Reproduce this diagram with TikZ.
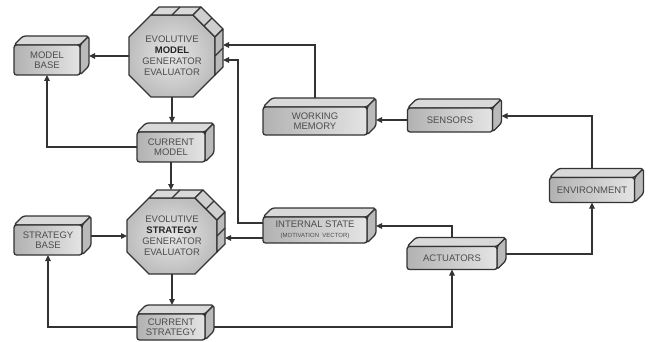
\documentclass[tikz,border=0pt]{standalone}
\usepackage{fontspec}
\setmainfont{Liberation Sans}
\usetikzlibrary{arrows.meta,calc,backgrounds}
\definecolor{lineC}{HTML}{333333}
\definecolor{txtC}{HTML}{4C4C4C}
\definecolor{frontL}{HTML}{B2B2B2}
\definecolor{frontR}{HTML}{E4E4E4}
\definecolor{topC}{HTML}{D9D9D9}
\definecolor{sideC}{HTML}{BABABA}
\definecolor{octI}{HTML}{E6E6E6}
\definecolor{octO}{HTML}{BEBEBE}
\newcommand\dep{9}
\newcommand\octdp{8}
\newcommand\chamf{22}
% 3d box: top and right face behind a front node
\newcommand\cube[1]{%
\filldraw[face,fill=topC](#1.north west)--++(\dep,-\dep)--($(#1.north east)+(\dep,-\dep)$)--(#1.north east)--cycle;
\filldraw[face,fill=sideC](#1.north east)--++(\dep,-\dep)--($(#1.south east)+(\dep,-\dep)$)--(#1.south east)--cycle;
\coordinate(#1-r)at($(#1.east)+(\dep,-4)$);\coordinate(#1-e)at($(#1.east)+(\dep,0)$);\coordinate(#1-t)at($(#1.north)+(0,-\dep)$);}
% extruded octagon round a text node
\newcommand\octo[1]{%
\coordinate(#1-1)at($(#1.north west)+(\chamf,0)$);\coordinate(#1-2)at($(#1.north east)+(-\chamf,0)$);
\coordinate(#1-3)at($(#1.north east)+(0,\chamf)$);\coordinate(#1-4)at($(#1.south east)+(0,-\chamf)$);
\coordinate(#1-5)at($(#1.south east)+(-\chamf,0)$);\coordinate(#1-6)at($(#1.south west)+(\chamf,0)$);
\coordinate(#1-7)at($(#1.south west)+(0,-\chamf)$);\coordinate(#1-8)at($(#1.north west)+(0,\chamf)$);
\path[draw=lineC,line width=1.3pt,line join=round,inner color=octI,outer color=octO](#1-1)--(#1-2)--(#1-3)--(#1-4)--(#1-5)--(#1-6)--(#1-7)--(#1-8)--cycle;
\filldraw[face,sharp corners,fill=topC](#1-1)--(#1-2)--++(\octdp,-\octdp)--($(#1-1)+(\octdp,-\octdp)$)--cycle;
\filldraw[face,sharp corners,fill=sideC!70!white](#1-2)--(#1-3)--++(\octdp,-\octdp)--($(#1-2)+(\octdp,-\octdp)$)--cycle;
\filldraw[face,sharp corners,fill=sideC](#1-3)--(#1-4)--++(\octdp,-\octdp)--($(#1-3)+(\octdp,-\octdp)$)--cycle;
\draw[face]($(#1-1)!.5!(#1-2)$)--++(\octdp,-\octdp)($(#1-2)!.5!(#1-3)$)--++(\octdp,-\octdp)($(#1-3)!.5!(#1-4)$)--++(\octdp,-\octdp);
\coordinate(#1-r)at($(#1.east)+(\octdp,0)$);\coordinate(#1-t)at($(#1.north)+(0,-\octdp)$);}

\begin{document}
\begin{tikzpicture}[x=1pt,y=-1pt,
face/.style={draw=lineC,line width=1.3pt,line join=round,rounded corners=2.5pt},
box/.style={draw=lineC,line width=1.3pt,rounded corners=2.5pt,left color=frontL,right color=frontR,outer sep=0pt,inner sep=1pt,align=center,text=txtC,font=\fontsize{9.5}{10.5}\selectfont},
oct/.style={outer sep=0pt,inner sep=0pt,align=center,text=txtC,font=\fontsize{9.5}{11}\selectfont},
arr/.style={draw=lineC,line width=1.2pt,-{Triangle[length=6pt,width=5.5pt]}}]
\useasboundingbox(0,0)rectangle(650,342);
\node[oct,minimum width=86pt,minimum height=82pt](om)at(172,56){EVOLUTIVE\\{\color{black!85}\bfseries MODEL}\\GENERATOR\\EVALUATOR};
\node[oct,minimum width=90pt,minimum height=76pt](os)at(172,236){EVOLUTIVE\\{\color{black!85}\bfseries STRATEGY}\\GENERATOR\\EVALUATOR};
\node[box,minimum width=66pt,minimum height=30pt](mb)at(47,60){MODEL\\BASE};
\node[box,minimum width=68pt,minimum height=30pt](cm)at(171,147){CURRENT\\MODEL};
\node[box,minimum width=104pt,minimum height=28pt](wm)at(315,121){WORKING\\MEMORY};
\node[box,minimum width=85pt,minimum height=24pt](sens)at(450,120){SENSORS};
\node[box,minimum width=85pt,minimum height=25pt](env)at(592,190){ENVIRONMENT};
\node[box,minimum width=104pt,minimum height=26pt](is)at(315,230){INTERNAL STATE\\[-1pt]{\fontsize{6}{7}\selectfont(MOTIVATION\ \ VECTOR)}};
\node[box,minimum width=90pt,minimum height=23pt](act)at(452,258){ACTUATORS};
\node[box,minimum width=68pt,minimum height=30pt](sb)at(48,240){STRATEGY\\BASE};
\node[box,minimum width=68pt,minimum height=26pt](cs)at(171,327){CURRENT\\STRATEGY};
\begin{scope}[on background layer]
\octo{om}\octo{os}
\foreach\b in{mb,cm,wm,sens,env,is,act,sb,cs}{\cube{\b}}
\end{scope}
\coordinate(omin1)at([xshift=8pt,yshift=11pt]om.east);\coordinate(omin2)at([xshift=8pt,yshift=-4pt]om.east);
\coordinate(isa)at([yshift=7pt]is.west);\coordinate(isb)at([yshift=-8pt]is.west);
\draw[arr](om.west)--(om.west-|mb-r);\draw[arr](om.south)--(om.south|-cm-t);\draw[arr](cm.west)-|(mb.south);
\draw[arr](cm.south)--(cm.south|-os-t);\draw[arr](os.west-|sb-r)--(os.west);\draw[arr](os.south)--(os.south|-cs-t);\draw[arr](cs.west)-|(sb.south);
\draw[arr](wm-t)|-(omin1);\draw[arr](isa)--++(-25,0)|-(omin2);\draw[arr](isb)--(isb-|os-r);
\draw[arr](sens.west)--(sens.west-|wm-r);\draw[arr](env-t)|-(sens-r);
\draw[arr](act-t)|-(is-r);\draw[arr](act-r)-|(env.south);\draw[arr](cs-e)-|(act.south);
\end{tikzpicture}
\end{document}
